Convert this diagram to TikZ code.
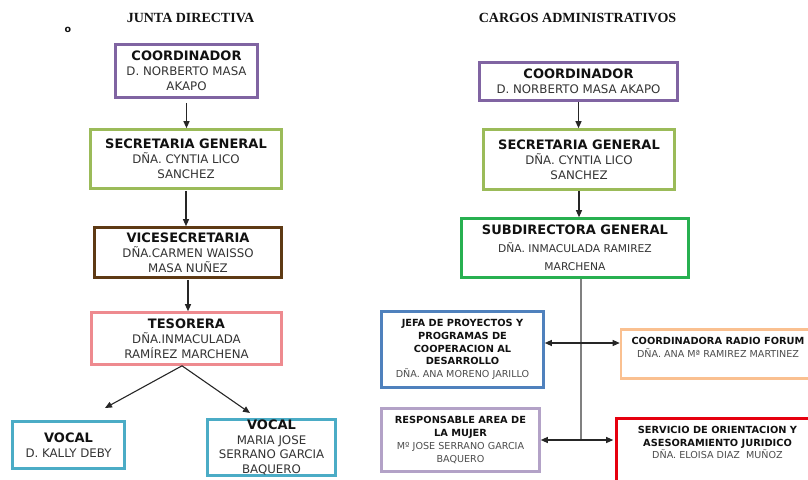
\documentclass[tikz,border=0pt]{standalone}
\usepackage{fontspec}
\setmainfont{DejaVu Sans}
\newfontfamily\titlefont{Liberation Serif}
\usetikzlibrary{arrows.meta}
\definecolor{cPurple}{HTML}{8064A2}
\definecolor{cGreenL}{HTML}{9BBB59}
\definecolor{cBrown}{HTML}{5E3A14}
\definecolor{cPink}{HTML}{EE8A8F}
\definecolor{cTeal}{HTML}{4BACC6}
\definecolor{cGreenR}{HTML}{28B050}
\definecolor{cBlue}{HTML}{4F81BD}
\definecolor{cOrange}{HTML}{FAC090}
\definecolor{cLav}{HTML}{B3A2C7}
\definecolor{cRed}{HTML}{E6000E}
\definecolor{txt}{HTML}{333333}
\definecolor{hd}{HTML}{111111}
\definecolor{smtxt}{HTML}{4D4D4D}
\definecolor{vline}{HTML}{808080}
\newcommand\boxhead[1]{{\fontsize{13}{15}\selectfont\bfseries\color{hd}#1}}
\newcommand\boxheadsmall[1]{{\fontsize{9.8}{12.8}\selectfont\bfseries\color{hd}#1}}
\begin{document}
\begin{tikzpicture}[x=1pt,y=-1pt,
  box/.style={draw, line width=2.6pt, fill=white, align=center, inner sep=2pt, text=txt},
  big/.style={font=\fontsize{11.8}{15}\selectfont},
  small/.style={font=\fontsize{9.6}{12.8}\selectfont, text=smtxt},
  ttl/.style={font=\titlefont\fontsize{14}{16}\selectfont\bfseries, text=hd, inner sep=0pt},
  arr/.style={draw=black!85, line width=1.1pt, -{Triangle[length=7pt,width=6pt]}},
  dbl/.style={draw=black!85, line width=1.1pt, {Triangle[length=7pt,width=6pt]}-{Triangle[length=7pt,width=6pt]}}
]
\useasboundingbox (0,0) rectangle (808,479);
\clip (0,0) rectangle (808,479);

% titles
\node[ttl, anchor=base] (t1) at (190.5,22) {JUNTA DIRECTIVA};
\node[ttl, anchor=base] (t2) at (577.5,22) {CARGOS ADMINISTRATIVOS};
\node[font=\fontsize{9.5}{9.5}\selectfont\bfseries, text=hd, inner sep=0pt] (dot) at (68,29.5) {o};

% left column
\node[box, big, draw=cPurple, minimum width=142, minimum height=53] (coordL) at (186.5,71)
  {\boxhead{COORDINADOR}\\D. NORBERTO MASA\\AKAPO};
\node[box, big, draw=cGreenL, minimum width=191, minimum height=59] (secL) at (186,159)
  {\boxhead{SECRETARIA GENERAL}\\DÑA. CYNTIA LICO\\SANCHEZ};
\node[box, big, draw=cBrown, minimum width=187, minimum height=50] (viceL) at (188,252.5)
  {\boxhead{VICESECRETARIA}\\DÑA.CARMEN WAISSO\\MASA NUÑEZ};
\node[box, big, draw=cPink, minimum width=190, minimum height=52] (tesL) at (186.5,338.5)
  {\boxhead{TESORERA}\\DÑA.INMACULADA\\RAMÍREZ MARCHENA};
\node[box, big, draw=cTeal, minimum width=112, minimum height=47] (voc1) at (68.5,445)
  {\boxhead{VOCAL}\\D. KALLY DEBY};
\node[box, font=\fontsize{11.8}{14.5}\selectfont, inner ysep=0.5pt, draw=cTeal, minimum width=128, minimum height=56] (voc2) at (271.5,447.5)
  {\boxhead{VOCAL}\\MARIA JOSE\\SERRANO GARCIA\\BAQUERO};

\draw[arr, shorten <=4pt] (coordL.south) -- (coordL.south |- secL.north);
\draw[arr, shorten <=1pt] (secL.south) -- (secL.south |- viceL.north);
\draw[arr, shorten <=1pt] (viceL.south) -- (viceL.south |- tesL.north);
\coordinate (v1tip) at (105,408);
\coordinate (v2tip) at (250,413);
\draw[arr] ([xshift=-4.5pt]tesL.south) -- (v1tip);
\draw[arr] ([xshift=-4.5pt]tesL.south) -- (v2tip);

% right column
\node[box, big, draw=cPurple, minimum width=198, minimum height=38] (coordR) at (578.5,81.5)
  {\boxhead{COORDINADOR}\\D. NORBERTO MASA AKAPO};
\node[box, big, draw=cGreenL, minimum width=191, minimum height=60] (secR) at (579,159.5)
  {\boxhead{SECRETARIA GENERAL}\\DÑA. CYNTIA LICO\\SANCHEZ};
\node[box, font=\fontsize{10.7}{18}\selectfont, draw=cGreenR, minimum width=227, minimum height=59] (subR) at (575,248)
  {\boxhead{SUBDIRECTORA GENERAL}\\DÑA. INMACULADA RAMIREZ\\MARCHENA};
\node[box, small, draw=cBlue, minimum width=162, minimum height=76] (jefa) at (462.5,349.5)
  {\boxheadsmall{JEFA DE PROYECTOS Y}\\\boxheadsmall{PROGRAMAS DE}\\\boxheadsmall{COOPERACION AL}\\\boxheadsmall{DESARROLLO}\\DÑA. ANA MORENO JARILLO};
\node[box, small, draw=cOrange, minimum width=194, minimum height=49, text depth=14pt] (radio) at (718,354)
  {\boxheadsmall{COORDINADORA RADIO FORUM}\\DÑA. ANA Mª RAMIREZ MARTINEZ};
\node[box, small, draw=cLav, minimum width=158, minimum height=63] (resp) at (460.5,440)
  {\boxheadsmall{RESPONSABLE AREA DE}\\\boxheadsmall{LA MUJER}\\Mº JOSE SERRANO GARCIA\\BAQUERO};
\node[box, small, draw=cRed, minimum width=202, minimum height=67, text depth=19pt] (serv) at (717.5,452)
  {\boxheadsmall{SERVICIO DE ORIENTACION Y}\\\boxheadsmall{ASESORAMIENTO JURIDICO}\\DÑA. ELOISA DIAZ \ MUÑOZ};

\draw[arr] (coordR.south) -- (coordR.south |- secR.north);
\draw[arr] (secR.south) -- (secR.south |- subR.north);
\coordinate (r1) at (581,343);
\coordinate (r2) at (581,440);
\draw[vline, line width=1.4pt] (subR.south -| r2) -- (r2);
\draw[dbl] (jefa.east |- r1) -- (radio.west |- r1);
\draw[dbl, shorten >=2pt] (resp.east |- r2) -- (serv.west |- r2);
\end{tikzpicture}
\end{document}
